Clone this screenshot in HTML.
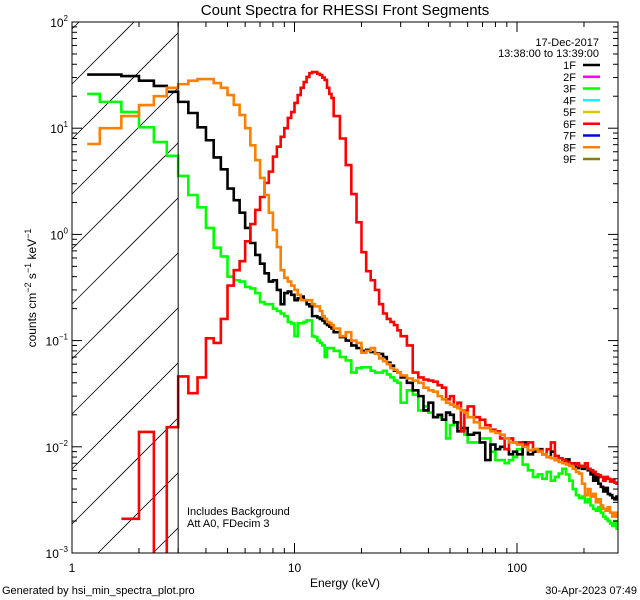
<!DOCTYPE html>
<html><head><meta charset="utf-8"><style>
html,body{margin:0;padding:0;background:#fff;width:640px;height:600px;overflow:hidden;}
svg{display:block;font-family:"Liberation Sans",sans-serif;overflow:hidden;}
</style></head><body>
<svg id="chart" width="640" height="600" viewBox="0 0 640 600" xmlns="http://www.w3.org/2000/svg">
<defs><clipPath id="plotclip"><rect x="72" y="22" width="546" height="531"/></clipPath></defs>
<rect width="640" height="600" fill="#fff"/>
<text x="345" y="15" font-size="15" text-anchor="middle">Count Spectra for RHESSI Front Segments</text>
<g id="hatch"></g>
<g id="series" clip-path="url(#plotclip)"></g>
<rect x="72" y="22" width="546" height="531" fill="none" stroke="#000" stroke-width="1"/>
<g id="ticks"></g>
<text x="345" y="587" font-size="12" text-anchor="middle">Energy (keV)</text>
<text transform="translate(36,288) rotate(-90)" font-size="12" text-anchor="middle">counts cm<tspan dy="-5" font-size="9">−2</tspan><tspan dy="5"> s</tspan><tspan dy="-5" font-size="9">−1</tspan><tspan dy="5"> keV</tspan><tspan dy="-5" font-size="9">−1</tspan></text>
<text x="2" y="594" font-size="11">Generated by hsi_min_spectra_plot.pro</text>
<text x="637" y="594" font-size="11" text-anchor="end">30-Apr-2023 07:49</text>
<text x="187" y="515" font-size="11">Includes Background</text>
<text x="187" y="527" font-size="11">Att A0, FDecim 3</text>
<text x="599" y="46" font-size="11" text-anchor="end">17-Dec-2017</text>
<text x="599" y="57" font-size="11" text-anchor="end">13:38:00 to 13:39:00</text>
<g id="legend"></g>
</svg>
<script>
const xTickVals = [1, 10, 100];
const xTickLabels = ["1", "10", "100"];
const yTickExps = [2, 1, 0, -1, -2, -3];
const legendNames = ["1F","2F","3F","4F","5F","6F","7F","8F","9F"];
const legendColors = ["#000000","#ff00ff","#00ff00","#00ffff","#d8c800","#ff0000","#0000ff","#ff8000","#808000"];
const blackSeries = [32,32,31,28,25,22,17.7,13.9,10.2,7.7,5.3,4.1,2.7,2.1,1.6,1.15,0.83,0.64,0.53,0.43,0.36,0.37,0.30,0.22,0.28,0.29,0.27,0.24,0.25,0.26,0.24,0.22,0.21,0.17,0.17,0.165,0.16,0.155,0.146,0.14,0.135,0.13,
0.12,0.108,0.1,0.09,0.085,0.08,0.082,0.078,0.076,0.075,0.07,0.062,0.058,0.052,0.05,
0.045,0.04,0.034,0.03,0.022,0.026,0.019,0.02,0.018,0.021,0.02,0.017,0.014,0.015,0.015,
0.013,0.0135,0.011,0.0075,0.0105,0.0095,0.01,0.0095,0.0085,0.009,
0.0085,0.011,0.0085,0.009,0.0095,0.0085,0.008,0.009,0.0075,0.0078,0.0072,0.0076,0.0068,0.0070,0.0063,0.0066,0.0062,0.0064,0.0060,0.0055,0.0048,0.0055,0.0045,0.0042,0.0038,0.0041,0.0036,0.0035,0.0033,0.0032,0.0034,0.003];
const greenSeries = [21,17.7,14.2,10.2,7.4,5.5,3.55,2.35,1.8,1.15,0.75,0.62,0.40,0.37,0.36,0.32,0.31,0.28,0.23,0.22,0.22,0.2,0.19,0.18,0.17,0.15,0.145,0.11,0.146,0.146,0.15,0.155,0.155,0.11,0.108,0.1,0.095,0.09,0.07,0.085,0.085,0.085,
0.08,0.07,0.065,0.05,0.055,0.056,0.056,0.052,0.05,0.05,0.052,0.048,0.045,0.042,0.04,
0.026,0.034,0.031,0.022,0.024,0.021,0.019,0.019,0.018,0.012,0.016,0.017,0.017,0.015,0.013,
0.011,0.011,0.012,0.012,0.009,0.0075,0.0075,0.007,0.0075,0.008,
0.0095,0.0068,0.006,0.0052,0.0055,0.005,0.0058,0.0048,0.0052,0.0056,0.0062,0.0055,0.0048,0.0040,0.0035,0.0033,0.0034,0.0030,0.0032,0.0028,0.0026,0.0025,0.0027,0.0024,0.0022,0.0021,0.002,0.0019,0.0018,0.002,0.0017,0.0016];
const orangeSeries = [7.1,10,13,16.5,20,24,26,28,29,29,26.6,24,20.5,16.6,13.3,10,6.9,5.0,3.4,2.35,1.6,1.1,0.76,0.46,0.39,0.36,0.33,0.30,0.27,0.24,0.24,0.24,0.24,0.22,0.21,0.21,0.19,0.17,0.16,0.15,0.146,0.14,
0.13,0.11,0.12,0.10,0.095,0.077,0.08,0.085,0.075,0.068,0.064,0.06,0.055,0.053,0.05,
0.047,0.044,0.042,0.04,0.036,0.034,0.033,0.03,0.028,0.026,0.025,0.024,0.023,0.022,0.021,
0.019,0.017,0.015,0.015,0.014,0.0135,0.013,0.012,0.011,0.011,
0.0105,0.010,0.0093,0.0095,0.009,0.0085,0.0080,0.0078,0.0075,0.0072,0.007,0.0068,0.0066,0.0062,0.0058,0.0056,0.0045,0.0035,0.0040,0.0034,0.0036,0.003,0.0032,0.0028,0.0026,0.0025,0.0027,0.0024,0.0022,0.0024,0.0022,0.0021];
const redSeries = [null,null,0.0021,0.0138,0.000001,0.0153,0.046,0.032,0.045,0.105,0.095,0.16,0.33,0.46,0.56,0.86,1.25,1.7,2.25,3.05,3.9,5.4,6.7,8.3,10,12.5,14.2,17.3,20.5,24,27.2,30.4,33,33.8,33.8,32.5,31.7,30,28.5,24,21,19.2,
13,8,4.5,2.4,1.3,0.68,0.45,0.37,0.3,0.22,0.18,0.16,0.15,0.14,0.125,
0.11,0.09,0.05,0.045,0.043,0.042,0.041,0.038,0.036,0.028,0.03,0.024,0.026,0.014,0.022,
0.024,0.019,0.018,0.016,0.0145,0.014,0.012,0.0095,0.012,0.011,
0.011,0.0105,0.011,0.0095,0.0093,0.0085,0.0095,0.011,0.0082,0.0078,0.0075,0.0072,0.0070,0.0068,0.0070,0.0066,0.0065,0.0070,0.0062,0.0060,0.0058,0.0055,0.0054,0.0052,0.0048,0.0052,0.0050,0.0047,0.0049,0.0046,0.0045,0.0042];

// energy bin edges (keV)
const binEdges = [1.17];
for (let k = 4; k <= 45; k++) binEdges.push(k / 3);
for (let e = 16; e <= 30; e += 1) binEdges.push(e);
for (let e = 32; e <= 60; e += 2) binEdges.push(e);
for (let e = 64; e <= 100; e += 4) binEdges.push(e);
for (let e = 106; e <= 292; e += 6) binEdges.push(e);

const NS = "http://www.w3.org/2000/svg";
const X0 = 72, X1 = 618, Y0 = 22, Y1 = 553;
const xDec = 222.5, yDec = 106.2;
function xS(e) { return X0 + xDec * Math.log10(e); }
function yS(v) { return Y0 + (2 - Math.log10(v)) * yDec; }
function mk(tag, attrs, parent) {
  const el = document.createElementNS(NS, tag);
  for (const k in attrs) el.setAttribute(k, attrs[k]);
  parent.appendChild(el);
  return el;
}

// hatch lines (y = c - (x - 72)), clipped analytically to the hatch box
const hatch = document.getElementById('hatch');
const HX1 = xS(3);
for (let k = -4; k <= 12; k++) {
  const c = 194 + 55 * k;
  // start: x where y = min(c, Y1)
  let xa = 72, ya = c;
  if (ya > Y1) { xa = 72 + (c - Y1); ya = Y1; }
  let xb = HX1, yb = c - (HX1 - 72);
  if (yb < Y0) { xb = 72 + (c - Y0); yb = Y0; }
  if (xa >= xb || ya < Y0 || yb > Y1) continue;
  const ln = mk('line', {x1: xa, y1: ya, x2: xb, y2: yb, stroke: '#000', 'stroke-width': 0.8}, hatch);
  
  
}
const vline = mk('line', {x1: HX1, y1: Y0, x2: HX1, y2: Y1, stroke: '#000', 'stroke-width': 1}, document.getElementById('chart'));



// series
const seriesG = document.getElementById('series');
function drawSeries(vals, color, name) {
  let d = '';
  let started = false;
  for (let i = 0; i < vals.length; i++) {
    const v = vals[i];
    if (v === null) { started = false; continue; }
    const xa = xS(binEdges[i]), xb = Math.min(xS(binEdges[i + 1]), X1);
    if (xa >= X1) break;
    const y = Math.min(yS(v), Y1 + 1);
    if (!started) { d += 'M' + xa.toFixed(2) + ' ' + y.toFixed(2); started = true; }
    else d += 'L' + xa.toFixed(2) + ' ' + y.toFixed(2);
    d += 'L' + xb.toFixed(2) + ' ' + y.toFixed(2);
  }
  const p = mk('path', {d: d, fill: 'none', stroke: color, 'stroke-width': 2.6, 'stroke-linejoin': 'miter'}, seriesG);
  
  
}
drawSeries(greenSeries, '#00ff00', 'series-3f');
drawSeries(blackSeries, '#000000', 'series-1f');
drawSeries(orangeSeries, '#ff8000', 'series-8f');
drawSeries(redSeries, '#ff0000', 'series-6f');
seriesG.appendChild(seriesG.children[2]);

// ticks
const tg = document.getElementById('ticks');
for (let d = 0; d <= 2; d++) {
  for (let m = 1; m <= 9; m++) {
    const e = m * Math.pow(10, d);
    const x = xS(e);
    if (x > X1 + 0.5) continue;
    const L = m === 1 ? 10 : 5;
    const t1 = mk('line', {x1: x, y1: Y1, x2: x, y2: Y1 - L, stroke: '#000', 'stroke-width': 1}, tg);
    
    
    const t2 = mk('line', {x1: x, y1: Y0, x2: x, y2: Y0 + L, stroke: '#000', 'stroke-width': 1}, tg);
    
    
  }
}
xTickVals.forEach((v, i) => {
  const t = mk('text', {x: xS(v), y: 572, 'font-size': 12, 'text-anchor': 'middle'}, tg);
  t.textContent = xTickLabels[i];
  
  
});
for (let p = -3; p <= 2; p++) {
  for (let m = 1; m <= 9; m++) {
    if (p === 2 && m > 1) continue;
    const y = yS(m * Math.pow(10, p));
    const L = m === 1 ? 10 : 5;
    const t1 = mk('line', {x1: X0, y1: y, x2: X0 + L, y2: y, stroke: '#000', 'stroke-width': 1}, tg);
    
    
    const t2 = mk('line', {x1: X1, y1: y, x2: X1 - L, y2: y, stroke: '#000', 'stroke-width': 1}, tg);
    
    
  }
}
yTickExps.forEach(p => {
  const y = yS(Math.pow(10, p));
  const t = mk('text', {x: 68, y: y + 5, 'font-size': 12, 'text-anchor': 'end'}, tg);
  
  
  const a = document.createElementNS(NS, 'tspan'); a.textContent = '10'; t.appendChild(a);
  const b = document.createElementNS(NS, 'tspan'); b.setAttribute('dy', '-6'); b.setAttribute('font-size', '8');
  b.textContent = p < 0 ? '−' + (-p) : String(p); t.appendChild(b);
});

// legend
const lg = document.getElementById('legend');
legendNames.forEach((n, i) => {
  const y = 65 + i * 11.75;
  const t = mk('text', {x: 576, y: y + 4, 'font-size': 11, 'text-anchor': 'end'}, lg);
  t.textContent = n;
  
  
  const l = mk('line', {x1: 583, y1: y, x2: 600, y2: y, stroke: legendColors[i], 'stroke-width': 2.5}, lg);
  
  
});
</script>
</body></html>
